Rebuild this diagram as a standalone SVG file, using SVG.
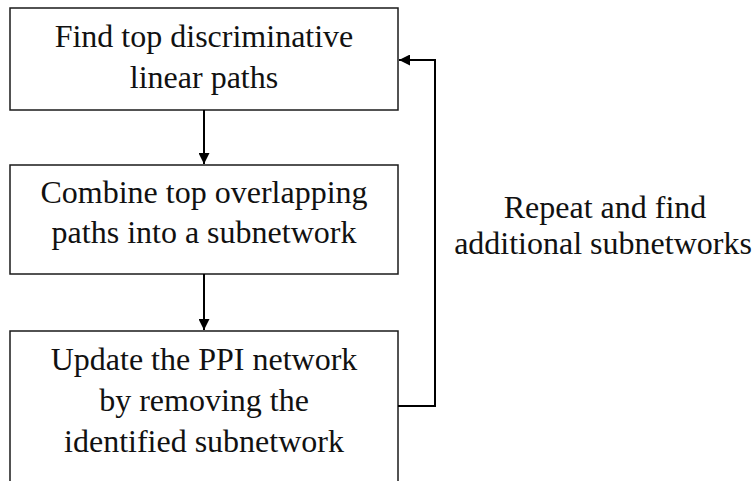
<svg xmlns="http://www.w3.org/2000/svg" width="756" height="481" viewBox="0 0 756 481">
<style>
.box{fill:#fff;stroke:#1a1a1a;stroke-width:1.5}
.t{font-family:"Liberation Serif","Times New Roman",serif;font-size:32px;fill:#111;text-anchor:middle}
.c{fill:none;stroke:#000;stroke-width:2}
</style>
<defs>
<marker id="ah" viewBox="0 0 10 10" refX="10" refY="5" markerWidth="5.5" markerHeight="5.5" orient="auto" markerUnits="strokeWidth">
<path d="M0,0 L10,5 L0,10 z" fill="#000"/>
</marker>
</defs>
<g id="n1">
<rect class="box" x="10" y="8" width="388" height="102"/>
<text class="t" x="204" y="47">Find top discriminative</text>
<text class="t" x="204" y="88">linear paths</text>
</g>
<g id="n2">
<rect class="box" x="10" y="165" width="388" height="109"/>
<text class="t" x="204" y="203">Combine top overlapping</text>
<text class="t" x="204" y="243">paths into a subnetwork</text>
</g>
<g id="n3">
<rect class="box" x="10" y="331" width="388" height="160"/>
<text class="t" x="204" y="370">Update the PPI network</text>
<text class="t" x="204" y="411">by removing the</text>
<text class="t" x="204" y="452">identified subnetwork</text>
</g>
<g id="label">
<text class="t" x="605" y="218">Repeat and find</text>
<text class="t" x="603" y="254">additional subnetworks</text>
</g>
<g id="connectors">
<line class="c" x1="204" y1="110" x2="204" y2="164" marker-end="url(#ah)"/>
<line class="c" x1="204" y1="274" x2="204" y2="330" marker-end="url(#ah)"/>
<polyline class="c" points="398,406 435,406 435,60 399,60" marker-end="url(#ah)"/>
</g>
</svg>
